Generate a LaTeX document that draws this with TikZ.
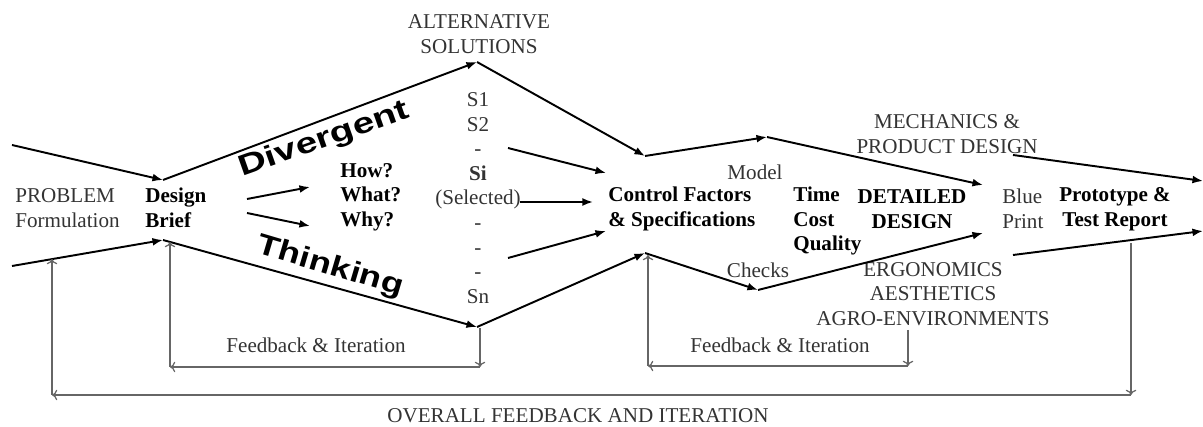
\documentclass[tikz,border=0pt]{standalone}
\usepackage{fontspec}
\setmainfont{Liberation Serif}
\newfontfamily\arialfont{Liberation Sans}
\usetikzlibrary{arrows.meta}

\begin{document}
\begin{tikzpicture}[x=0.2mm,y=-0.2mm,
                    flow/.style={line width=1.1pt,-{Latex[length=6pt,width=4.5pt]}},
                    feed/.style={black!60,line width=0.7pt,-{To[length=3pt,width=6pt]}},
                    txt/.style={inner sep=0pt,align=center,text=black!80,font=\fontsize{12}{14}\selectfont},
                    bold txt/.style={txt,text=black,font=\fontsize{12}{14}\selectfont\bfseries},
                    big word/.style={inner sep=0pt,font=\arialfont\bfseries\fontsize{16.5}{20}\selectfont}]
	\useasboundingbox (0,0) rectangle (1203,427);

	\coordinate (t0) at (12,145);
	\coordinate (t1) at (163,180);
	\coordinate (t2) at (477,62);
	\coordinate (t3) at (645,156);
	\coordinate (t4) at (767,137);
	\coordinate (t5) at (983,185);
	\coordinate (m0) at (1013,155);
	\coordinate (m1) at (1203,181);
	\coordinate (b0) at (12,266);
	\coordinate (b1) at (163,240);
	\coordinate (b2) at (477,327);
	\coordinate (b3) at (645,253);
	\coordinate (b4) at (758,290);
	\coordinate (b5) at (983,233);
	\coordinate (n0) at (1013,255);
	\coordinate (n1) at (1203,231);

	\node[txt,anchor=west,align=left] (problem) at (15,208) {PROBLEM\\Formulation};
	\node[bold txt,anchor=west,align=left] (brief) at (145,208) {Design\\Brief};
	\node[bold txt,anchor=west,align=left] (questions) at (340,197) {How?\\What?\\Why?};
	\node[txt] (solutions) at (478,198) {S1\\S2\\-\\\textbf{Si}\\(Selected)\\-\\-\\-\\Sn};
	\node[txt] (alternative) at (479,34) {ALTERNATIVE\\SOLUTIONS};
	\node[bold txt,anchor=west,align=left] (control) at (608,209) {Control Factors\\\& Specifications};
	\node[txt] (model) at (755,172) {Model};
	\node[txt] (checks) at (758,270) {Checks};
	\node[bold txt,anchor=west,align=left] (tcq) at (793,221) {Time\\Cost\\Quality};
	\node[bold txt] (detailed) at (912,209) {DETAILED\\DESIGN};
	\node[txt,anchor=west,align=left] (blue) at (1002,209) {Blue\\Print};
	\node[bold txt] (prototype) at (1115,209) {Prototype \&\\Test Report};
	\node[txt] (mechanics) at (947,134) {MECHANICS \&\\PRODUCT DESIGN};
	\node[txt] (ergonomics) at (933,294) {ERGONOMICS\\AESTHETICS\\AGRO-ENVIRONMENTS};
	\node[txt] (feed1) at (316,345) {Feedback \& Iteration};
	\node[txt] (feed2) at (780,345) {Feedback \& Iteration};
	\node[txt] (overall) at (578,416) {OVERALL FEEDBACK AND ITERATION};
	\node[big word,rotate=19.5,xscale=1.34] (divergent) at (324,140) {Divergent};
	\node[big word,rotate=-16.5,xscale=1.25] (thinking) at (330,267) {Thinking};

	\path[flow]
		(t0) edge (t1)
		(t1) edge (t2)
		(t2) edge (t3)
		(t3) edge (t4)
		(t4) edge (t5)
		(m0) edge (m1)
		(b0) edge (b1)
		(b1) edge (b2)
		(b2) edge (b3)
		(b3) edge (b4)
		(b4) edge (b5)
		(n0) edge (n1);

	\path[flow]
		(247,199) edge (310,187)
		(247,213) edge (310,226)
		(508,148) edge (606,173)
		(520,202) edge (593,202)
		(508,258) edge (606,231);

	\coordinate (f1a) at (480,367);
	\coordinate (f1b) at (170,367);
	\coordinate (f2a) at (908,366);
	\coordinate (f2b) at (648,366);
	\coordinate (f3a) at (1131,395);
	\coordinate (f3b) at (52,395);
	\path[feed]
		(480,328) edge (f1a)
		(f1a) edge (f1b)
		(f1b) edge (170,242)
		(908,330) edge (f2a)
		(f2a) edge (f2b)
		(f2b) edge (648,255)
		(1131,243) edge (f3a)
		(f3a) edge (f3b)
		(f3b) edge (52,259);
\end{tikzpicture}
\end{document}
